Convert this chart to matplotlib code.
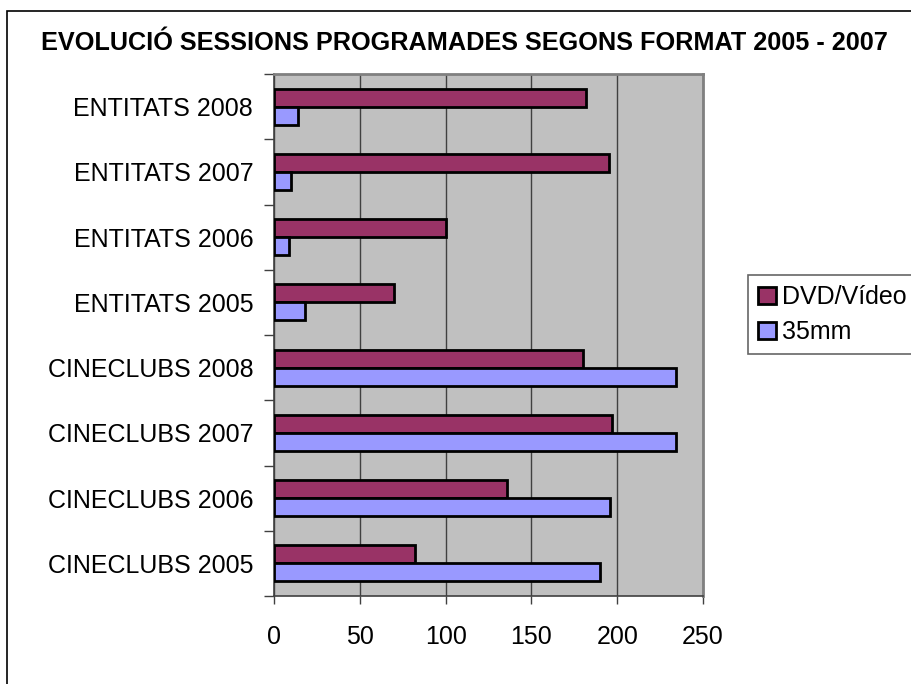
import numpy as np
import matplotlib
matplotlib.use("Agg")
import matplotlib.pyplot as plt
from matplotlib.patches import Rectangle

plt.rcParams["font.family"] = ["Liberation Sans", "DejaVu Sans"]

# dades (de baix a dalt)
categories = ["CINECLUBS 2005", "CINECLUBS 2006", "CINECLUBS 2007", "CINECLUBS 2008",
              "ENTITATS 2005", "ENTITATS 2006", "ENTITATS 2007", "ENTITATS 2008"]
dvd_video = [82, 136, 197, 180, 70, 100, 195, 182]
mm35 = [190, 196, 234, 234, 18, 9, 10, 14]
x_ticks = [0, 50, 100, 150, 200, 250]

W, H = 911, 684
fig = plt.figure(figsize=(W / 100, H / 100), dpi=100)

# marc exterior del gràfic
fig.patches.append(Rectangle((7 / W, -0.1), 1.2, 1 - 11 / H + 0.1, transform=fig.transFigure,
                             fill=False, edgecolor="black", linewidth=1.2))

ax = fig.add_axes([274 / W, 1 - 596 / H, (703 - 274) / W, (596 - 74) / H])
ax.set_facecolor("#c0c0c0")

y = np.arange(len(categories))
h = 0.276
ax.barh(y + h / 2, dvd_video, height=h, color="#993366", edgecolor="black", linewidth=2, zorder=3)
ax.barh(y - h / 2, mm35, height=h, color="#9999ff", edgecolor="black", linewidth=2, zorder=3)

ax.set_xlim(0, 250)
ax.set_ylim(-0.5, len(categories) - 0.5)
ax.set_xticks(x_ticks)
ax.set_xticklabels([str(v) for v in x_ticks], fontsize=18)
ax.tick_params(axis="x", direction="out", length=6, width=1, color="#404040", pad=15)
ax.xaxis.grid(True, color="#404040", linewidth=1, zorder=1)

ax.set_yticks(np.arange(-0.5, len(categories), 1))
ax.set_yticklabels([])
ax.set_yticks(y, minor=True)
ax.set_yticklabels(categories, minor=True, fontsize=18)
ax.tick_params(axis="y", which="major", direction="out", length=7, width=1, color="#404040")
ax.tick_params(axis="y", which="minor", length=0, pad=15)

for side in ["top", "right"]:
    ax.spines[side].set_color("#808080")
    ax.spines[side].set_linewidth(2)
for side in ["left", "bottom"]:
    ax.spines[side].set_color("#404040")
    ax.spines[side].set_linewidth(1.2)

fig.text(464 / W, 1 - 43 / H, "EVOLUCIÓ SESSIONS PROGRAMADES SEGONS FORMAT 2005 - 2007",
         ha="center", va="center", fontsize=18.2, fontweight="bold")

handles = [Rectangle((0, 0), 1, 1, facecolor="#993366", edgecolor="black", linewidth=2),
           Rectangle((0, 0), 1, 1, facecolor="#9999ff", edgecolor="black", linewidth=2)]
leg = fig.legend(handles, ["DVD/Vídeo", "35mm"], loc="upper left",
                 bbox_to_anchor=(748 / W, 1 - 275 / H), fontsize=18, frameon=True,
                 fancybox=False, handlelength=0.7, handleheight=0.7, handletextpad=0.25,
                 borderpad=0.4, labelspacing=0.45, borderaxespad=0)
leg.get_frame().set_edgecolor("#404040")
leg.get_frame().set_linewidth(1.2)

fig.savefig("out.png", dpi=100)
